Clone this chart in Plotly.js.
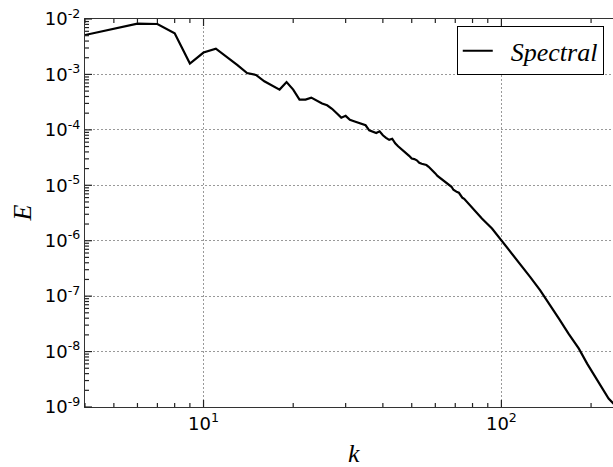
<!DOCTYPE html>
<html>
<head>
<meta charset="utf-8">
<script src="https://cdn.plot.ly/plotly-3.0.1.min.js"></script>
<style>
html,body{margin:0;padding:0;overflow:hidden;background:#fff;width:613px;height:467px;}
#chart{width:640px;height:467px;}
</style>
</head>
<body>
<div id="chart"></div>
<script>
// wavenumber k
const kValues = [
  4,5,6,7,8,9,10,11,12,13,14,15,16,17,18,19,20,21,22,23,
  24,25,26,27,28,29,30,31,32,33,34,35,36,37,38,39,40,41,42,43,
  44,45,46,47,48,49,50,51,52,53,54,55,56,57,58,59,60,61,62,63,
  64,65,66,67,68,69,70,71,72,73,74,75,
  80,86,93,100,107,116,125,135,146,156,168,182,194,207,218,229,238,244
];
// energy spectrum E(k)
const eValues = [
  5.14e-3,6.58e-3,8.26e-3,8.13e-3,5.52e-3,1.57e-3,2.48e-3,2.92e-3,2.08e-3,1.47e-3,
  1.06e-3,9.77e-4,7.52e-4,6.37e-4,5.32e-4,7.29e-4,5.32e-4,3.52e-4,3.52e-4,3.82e-4,
  3.32e-4,2.98e-4,2.77e-4,2.40e-4,1.99e-4,1.66e-4,1.79e-4,1.52e-4,1.43e-4,1.34e-4,
  1.26e-4,1.21e-4,9.82e-5,9.23e-5,8.77e-5,9.42e-5,7.98e-5,7.19e-5,6.61e-5,6.92e-5,
  5.71e-5,5.05e-5,4.55e-5,4.19e-5,3.85e-5,3.40e-5,3.03e-5,2.97e-5,2.82e-5,2.55e-5,
  2.44e-5,2.39e-5,2.32e-5,2.16e-5,1.99e-5,1.80e-5,1.64e-5,1.48e-5,1.39e-5,1.28e-5,
  1.21e-5,1.15e-5,1.06e-5,1.00e-5,9.40e-6,8.30e-6,7.80e-6,7.53e-6,7.33e-6,6.46e-6,
  5.94e-6,5.70e-6,
  3.79e-6,2.51e-6,1.66e-6,1.02e-6,6.26e-7,3.60e-7,2.21e-7,1.27e-7,6.84e-8,3.94e-8,
  2.11e-8,1.13e-8,6.07e-9,3.48e-9,2.15e-9,1.42e-9,1.15e-9,9.5e-10
];
const seriesName = "Spectral";
const xLabel = "k";
const yLabel = "E";
const xTickVals = [10, 100];
const xTickText = ["10<sup>1</sup>", "10<sup>2</sup>"];
const yTickVals = [1e-9, 1e-8, 1e-7, 1e-6, 1e-5, 1e-4, 1e-3, 1e-2];
const yTickText = ["10<sup>-9</sup>", "10<sup>-8</sup>", "10<sup>-7</sup>", "10<sup>-6</sup>",
                   "10<sup>-5</sup>", "10<sup>-4</sup>", "10<sup>-3</sup>", "10<sup>-2</sup>"];

const xRange = [Math.log10(4), Math.log10(256)];
const yRange = [-9, -2];

function minorTicks(lo, hi) {
  const out = [];
  for (let d = lo; d <= hi; d++) {
    for (let m = 2; m <= 9; m++) out.push(m * Math.pow(10, d));
  }
  return out;
}
// fraction of the axis at which a log-axis value sits
function frac(v, r) { return (Math.log10(v) - r[0]) / (r[1] - r[0]); }

const tickColor = "#222";
const shapes = [];
function xTick(v, len) {
  const p = frac(v, xRange);
  if (p < 0 || p > 1) return;
  [0, 1].forEach(function (edge) {
    shapes.push({type: "line", xref: "paper", yref: "paper", ysizemode: "pixel", yanchor: edge,
      x0: p, x1: p, y0: 0, y1: edge === 0 ? len : -len,
      line: {color: tickColor, width: 1.2}});
  });
}
function yTick(v, len) {
  const p = frac(v, yRange);
  if (p < 0 || p > 1) return;
  shapes.push({type: "line", xref: "paper", yref: "paper", xsizemode: "pixel", xanchor: 0,
    x0: 0, x1: len, y0: p, y1: p, line: {color: tickColor, width: 1.2}});
}
minorTicks(0, 2).forEach(function (v) { xTick(v, 4); });
xTickVals.forEach(function (v) { xTick(v, 7); });
minorTicks(-9, -3).forEach(function (v) { yTick(v, 4); });
yTickVals.forEach(function (v) { yTick(v, 7); });

const tickFont = {family: "DejaVu Sans", size: 18, color: "#000"};
const mathFont = {family: "Liberation Serif", size: 26, color: "#000"};

const axisCommon = {
  type: "log",
  showline: true,
  linecolor: "#333",
  linewidth: 1.2,
  mirror: true,
  ticks: "",
  showgrid: true,
  gridcolor: "#999",
  gridwidth: 1,
  griddash: "1.5px,2.5px",
  zeroline: false,
  tickmode: "array",
  tickfont: tickFont
};

const data = [
  {
    x: kValues,
    y: eValues,
    type: "scatter",
    mode: "lines",
    name: "&nbsp;&nbsp;" + seriesName,
    line: {color: "#000", width: 2.2}
  }
];

const layout = {
  width: 640,
  height: 467,
  margin: {l: 85, r: 17, t: 19, b: 60},
  paper_bgcolor: "#fff",
  plot_bgcolor: "#fff",
  showlegend: true,
  legend: {
    x: 0.691, y: 0.981, xanchor: "left", yanchor: "top",
    bgcolor: "#fff", bordercolor: "#000", borderwidth: 1,
    font: {family: "Liberation Serif", size: 26, color: "#000", style: "italic"}
  },
  xaxis: Object.assign({}, axisCommon, {
    range: xRange, tickvals: xTickVals, ticktext: xTickText
  }),
  yaxis: Object.assign({}, axisCommon, {
    range: yRange, tickvals: yTickVals, ticktext: yTickText
  }),
  shapes: shapes,
  annotations: [
    {text: "<i>" + xLabel + "</i>", xref: "paper", yref: "paper", x: 0.5, y: -0.119,
     xanchor: "center", yanchor: "middle", showarrow: false, font: mathFont},
    {text: "<i>" + yLabel + "</i>", xref: "paper", yref: "paper", x: -0.118, y: 0.5,
     xanchor: "center", yanchor: "middle", showarrow: false, textangle: -90, font: mathFont}
  ]
};

Plotly.newPlot("chart", data, layout, {displayModeBar: false, staticPlot: true});
</script>
</body>
</html>
